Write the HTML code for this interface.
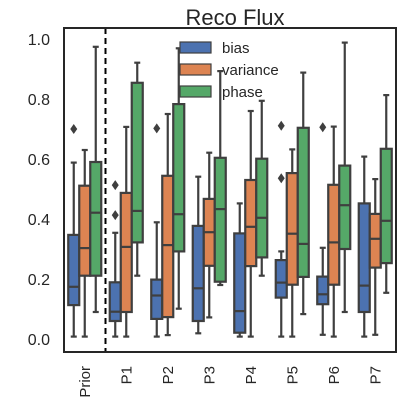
<!DOCTYPE html>
<html><head><meta charset="utf-8"><style>body{margin:0;background:#fff}svg{display:block;font-family:"Liberation Sans",sans-serif}</style></head>
<body>
<svg id="c" width="400" height="400">
<rect x="0" y="0" width="400" height="400" fill="#fff"/>
<text x="235" y="25" font-size="22" text-anchor="middle" fill="#262626">Reco Flux</text>
<g id="plot"></g>
<rect x="64" y="28" width="332" height="324" fill="none" stroke="#262626" stroke-width="2"/>
</svg>
<script>
const categories=["Prior","P1","P2","P3","P4","P5","P6","P7"];
const series=["bias","variance","phase"];
const colors=["#4c72b0","#dd8452","#55a868"];
// [min,q1,median,q3,max]
const biasStats=[[0.008,0.113,0.174,0.347,0.588],[0.008,0.06,0.091,0.189,0.354],[0.008,0.067,0.145,0.198,0.389],[0.019,0.06,0.169,0.377,0.541],[0.008,0.021,0.093,0.352,0.452],[0.008,0.138,0.188,0.263,0.292],[0.014,0.116,0.149,0.208,0.304],[0.008,0.09,0.178,0.452,0.608]];
const varianceStats=[[0.008,0.211,0.303,0.511,0.63],[0.008,0.09,0.307,0.487,0.707],[0.013,0.073,0.313,0.544,0.75],[0.072,0.244,0.356,0.467,0.621],[0.008,0.243,0.374,0.53,0.76],[0.008,0.181,0.351,0.553,0.632],[0.008,0.181,0.322,0.514,0.708],[0.014,0.238,0.334,0.417,0.533]];
const phaseStats=[[0.09,0.211,0.421,0.59,0.974],[0.211,0.322,0.427,0.854,0.921],[0.101,0.292,0.416,0.783,0.969],[0.18,0.191,0.433,0.604,0.893],[0.211,0.272,0.404,0.601,0.794],[0.083,0.207,0.317,0.704,0.888],[0.09,0.3,0.446,0.578,0.988],[0.154,0.253,0.394,0.634,0.813]];
const biasOutliers=[[0.70],[0.513,0.413],[0.702],[],[],[0.711,0.536],[0.706],[]];
const yTicks=[0,0.2,0.4,0.6,0.8,1.0];
const yTickLabels=["0.0","0.2","0.4","0.6","0.8","1.0"];

const NS="http://www.w3.org/2000/svg";
const g=document.getElementById('plot');
const left=64,right=396,bw=(right-left)/categories.length;
function y(v){return 339-v*300;}
function xc(i){return left+bw*i+bw/2;}
function mk(t,a,p){const e=document.createElementNS(NS,t);for(const k in a)e.setAttribute(k,a[k]);(p||g).appendChild(e);return e;}
const line="#3f3f3f";
yTicks.forEach((t,i)=>{
  const e=mk('text',{x:50,y:y(t)+6,'font-size':16,'text-anchor':'end',fill:'#262626'});
  e.textContent=yTickLabels[i];
  
  
});
categories.forEach((c,i)=>{
  const e=mk('text',{transform:`translate(${xc(i)+5},366) rotate(-90)`,'font-size':15,'text-anchor':'end',fill:'#262626'});
  e.textContent=c;
  
  
});
const all=[biasStats,varianceStats,phaseStats];
const w=11;
all.forEach((st,s)=>{
  st.forEach((d,i)=>{
    const cx=xc(i)+(s-1)*w;
    const grp=mk('g',{});
    
    
    mk('line',{x1:cx,x2:cx,y1:y(d[0]),y2:y(d[1]),stroke:line,'stroke-width':2.2},grp);
    mk('line',{x1:cx,x2:cx,y1:y(d[3]),y2:y(d[4]),stroke:line,'stroke-width':2.2},grp);
    mk('line',{x1:cx-3,x2:cx+3,y1:y(d[0]),y2:y(d[0]),stroke:line,'stroke-width':2.2},grp);
    mk('line',{x1:cx-3,x2:cx+3,y1:y(d[4]),y2:y(d[4]),stroke:line,'stroke-width':2.2},grp);
    mk('rect',{x:cx-w/2,y:y(d[3]),width:w,height:y(d[1])-y(d[3]),fill:colors[s],stroke:line,'stroke-width':2.2},grp);
    mk('line',{x1:cx-w/2,x2:cx+w/2,y1:y(d[2]),y2:y(d[2]),stroke:line,'stroke-width':2.2},grp);
  });
});
biasOutliers.forEach((arr,i)=>{
  arr.forEach(v=>{
    const cx=xc(i)-w,cy=y(v);
    const e=mk('polygon',{points:`${cx},${cy-5} ${cx+3.5},${cy} ${cx},${cy+5} ${cx-3.5},${cy}`,fill:line});
    
    
  });
});
const dl=mk('line',{x1:left+bw,x2:left+bw,y1:28,y2:352,stroke:'#000','stroke-width':2,'stroke-dasharray':'6,4'});


series.forEach((s,k)=>{
  const lg=mk('g',{});
  
  
  mk('rect',{x:180,y:42+k*22,width:31,height:11,fill:colors[k],stroke:line,'stroke-width':1.2},lg);
  const t=mk('text',{x:222,y:53+k*22,'font-size':15,fill:'#262626'},lg);
  t.textContent=s;
});
</script>
</body></html>
